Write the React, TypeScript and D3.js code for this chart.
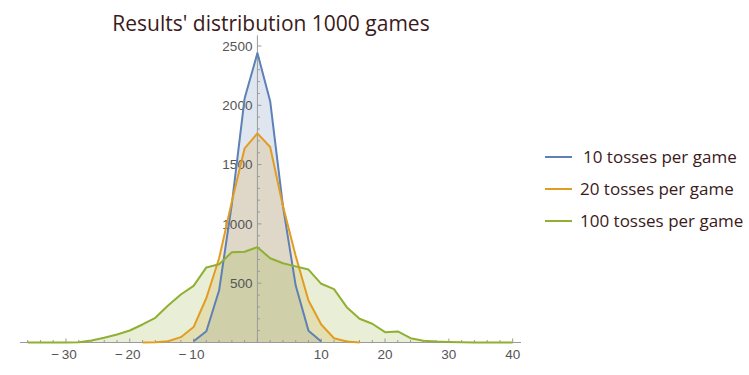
import * as d3 from 'd3';
import React, { useEffect, useRef } from 'react';

// results (heads - tails) for each series
const x10 = [-10, -8, -6, -4, -2, 0, 2, 4, 6, 8, 10];
const y10 = [10, 95, 440, 1170, 2060, 2440, 2035, 1150, 480, 100, 8];

const x20 = [-18, -16, -14, -12, -10, -8, -6, -4, -2, 0, 2, 4, 6, 8, 10, 12, 14, 16];
const y20 = [1, 2, 10, 45, 130, 375, 710, 1190, 1637, 1763, 1648, 1150, 730, 354, 152, 36, 8, 1];

const x100 = [-36, -34, -32, -30, -28, -26, -24, -22, -20, -18, -16, -14, -12, -10, -8, -6, -4, -2,
  0, 2, 4, 6, 8, 10, 12, 14, 16, 18, 20, 22, 24, 26, 28, 30, 32, 34, 36, 38, 40];
const y100 = [0, 0, 1, 1, 3, 17, 40, 68, 101, 152, 208, 312, 405, 478, 633, 660, 762, 765,
  804, 710, 668, 642, 615, 495, 450, 298, 200, 158, 87, 93, 36, 14, 8, 5, 2, 1, 0, 0, 0];

const seriesNames = ['10 tosses per game', '20 tosses per game', '100 tosses per game'];
const seriesColors = ['#5E81B5', '#E19C24', '#8FB032'];

const xTicks = [-30, -20, -10, 10, 20, 30, 40];
const yTicks = [500, 1000, 1500, 2000, 2500];

const title = "Results' distribution 1000 games";

const W = 749;
const H = 375;

const App: React.FC = () => {
  const ref = useRef<SVGSVGElement | null>(null);

  useEffect(() => {
    if (!ref.current) return;
    const svg = d3.select(ref.current);
    svg.selectAll('*').remove();

    const x = d3.scaleLinear().domain([-37.2, 41.3]).range([20, 521]);
    const y = d3.scaleLinear().domain([0, 2500]).range([342.5, 46]);

    const data = [
      x10.map((v, i) => [v, y10[i]] as [number, number]),
      x20.map((v, i) => [v, y20[i]] as [number, number]),
      x100.map((v, i) => [v, y100[i]] as [number, number]),
    ];

    const area = d3.area<[number, number]>()
      .x(d => x(d[0]))
      .y0(y(0))
      .y1(d => y(d[1]));
    const line = d3.line<[number, number]>()
      .x(d => x(d[0]))
      .y(d => y(d[1]));

    // fills first
    data.forEach((s, i) => {
      svg.append('path')
        .attr('d', area(s))
        .attr('fill', seriesColors[i])
        .attr('fill-opacity', 0.2);
    });

    // axes
    const axisColor = '#9a9a9a';
    const g = svg.append('g');
    g.append('line')
      .attr('x1', x(-37.2)).attr('x2', x(41.3))
      .attr('y1', y(0)).attr('y2', y(0))
      .attr('stroke', axisColor);
    g.append('line')
      .attr('x1', x(0)).attr('x2', x(0))
      .attr('y1', y(0)).attr('y2', y(2590))
      .attr('stroke', axisColor);

    // minor x ticks every 2
    d3.range(-36, 41, 2).forEach(v => {
      const major = v % 10 === 0;
      g.append('line')
        .attr('x1', x(v)).attr('x2', x(v))
        .attr('y1', y(0)).attr('y2', y(0) - (major ? 4 : 2.5))
        .attr('stroke', axisColor);
    });
    d3.range(100, 2600, 100).forEach(v => {
      const major = v % 500 === 0;
      g.append('line')
        .attr('x1', x(0)).attr('x2', x(0) + (major ? 4 : 2.5))
        .attr('y1', y(v)).attr('y2', y(v))
        .attr('stroke', axisColor);
    });

    const fmt = d3.format('d');
    g.selectAll('.xl').data(xTicks).enter().append('text')
      .attr('x', d => x(d) - (d < 0 ? 2 : 0))
      .attr('y', 359)
      .attr('text-anchor', 'middle')
      .attr('font-family', 'Liberation Sans, Arial, sans-serif')
      .attr('font-size', 13.5)
      .attr('fill', '#555')
      .text(d => (d < 0 ? '\u2212\u2009' + Math.abs(d) : fmt(d)));
    g.selectAll('.yl').data(yTicks).enter().append('text')
      .attr('x', x(0) - 5)
      .attr('y', d => y(d))
      .attr('dy', '0.35em')
      .attr('text-anchor', 'end')
      .attr('font-family', 'Liberation Sans, Arial, sans-serif')
      .attr('font-size', 13.5)
      .attr('fill', '#555')
      .text(d => fmt(d));

    // lines on top
    data.forEach((s, i) => {
      svg.append('path')
        .attr('d', line(s))
        .attr('fill', 'none')
        .attr('stroke', seriesColors[i])
        .attr('stroke-width', 2)
        .attr('stroke-linejoin', 'round');
    });

    // title
    svg.append('text')
      .attr('x', 271)
      .attr('y', 31)
      .attr('text-anchor', 'middle')
      .attr('font-family', 'Open Sans, sans-serif')
      .attr('font-size', 21)
      .attr('fill', '#3b1a1a')
      .text(title);

    // legend
    const legendY = [157, 189, 221];
    seriesNames.forEach((name, i) => {
      svg.append('line')
        .attr('x1', 545).attr('x2', 572)
        .attr('y1', legendY[i]).attr('y2', legendY[i])
        .attr('stroke', seriesColors[i])
        .attr('stroke-width', 2);
      svg.append('text')
        .attr('x', i === 0 ? 583 : 580)
        .attr('y', legendY[i])
        .attr('dy', '0.35em')
        .attr('font-family', 'Open Sans, sans-serif')
        .attr('font-size', 17)
        .attr('fill', '#3b1a1a')
        .text(name);
    });
  }, []);

  return (
    <div style={{ position: 'absolute', left: 0, top: 0 }}>
      <svg ref={ref} width={W} height={H} />
    </div>
  );
};

export default App;
